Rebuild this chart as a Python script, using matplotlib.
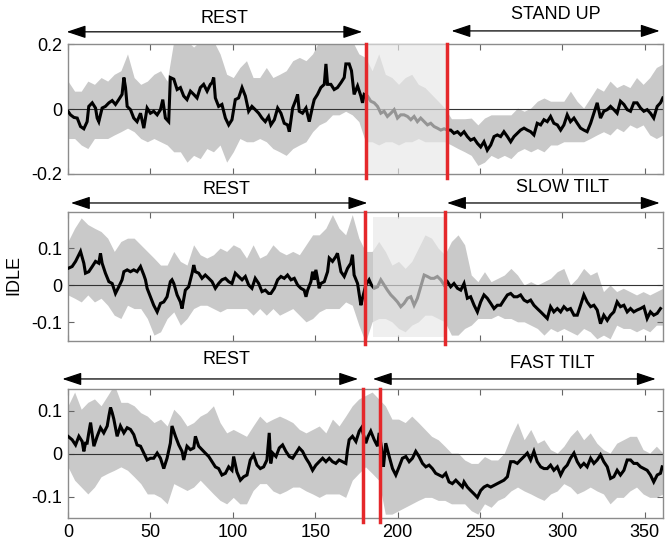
import numpy as np
import matplotlib
matplotlib.use("Agg")
import matplotlib.pyplot as plt
from matplotlib.transforms import blended_transform_factory

plt.rcParams['font.family'] = ['Liberation Sans', 'DejaVu Sans']
plt.rcParams['font.size'] = 13

# ---------------- data ----------------
xmax = 361
band_t = np.linspace(0, xmax, 91)

# panel 1 : rest -> stand up
stand_t = [0.0, 1.5, 3.6, 5.6, 7.6, 9.6, 11.6, 12.6, 14.7, 16.7, 17.7, 18.7, 20.7, 22.7, 24.8, 26.8, 28.8,
           30.8, 32.8, 33.9, 34.9, 35.9, 37.9, 39.9, 41.9, 44.0, 46.0, 48.0, 50.0, 52.0, 54.1, 56.1, 57.5,
           59.1, 61.1, 62.1, 64.2, 66.2, 68.2, 70.2, 72.2, 74.3, 76.3, 78.3, 80.3, 82.3, 84.4, 86.4, 87.4,
           88.4, 89.4, 91.4, 93.4, 95.5, 97.5, 99.5, 101.5, 103.5, 105.6, 107.6, 109.6, 111.6, 113.6, 115.7,
           117.7, 119.7, 121.7,
           123.1, 125.2, 127.2, 129.2, 131.2, 133.2, 134.3, 136.3, 138.3, 139.3, 140.3, 142.3, 144.4, 146.4,
           148.4, 149.4, 151.4, 153.4, 155.5, 156.5, 157.5, 159.5, 161.5, 163.5, 165.6, 167.6, 168.6, 170.6,
           172.0, 173.6, 175.7, 177.7, 178.7, 179.7,
           181.7, 183.7, 185.8, 187.8, 189.8, 191.8, 193.8, 195.9, 197.9, 199.9, 201.9, 203.9, 206.0, 208.0,
           210.0, 212.0, 214.0, 216.1, 218.1, 220.1, 222.1, 224.1, 226.2, 228.2,
           230.2, 232.2, 234.2, 236.3, 238.3,
           240.3, 242.3, 244.3, 246.4, 248.4, 250.4, 252.4, 254.4, 256.5, 258.5, 260.5, 262.5, 264.5, 266.6,
           268.6, 270.6, 272.6, 274.6, 276.7, 278.7, 280.7, 282.7, 284.7, 286.8, 288.8, 290.8, 292.8, 294.8,
           296.9, 298.9, 300.9, 302.9, 304.9, 307.0, 309.0, 311.0, 313.0, 315.0, 317.1, 319.1, 321.1, 323.1,
           325.1, 327.2, 329.2, 331.2, 333.2, 335.2, 337.3, 339.3, 341.3, 343.3, 345.3, 347.4, 349.4, 351.4,
           353.4, 355.4, 357.5, 359.5, 360.9]
stand_y = [-0.007, -0.018, -0.026, -0.028, -0.054, -0.061, -0.039, 0.008, 0.019, 0.003, -0.028, -0.039,
           0.003, 0.008, 0.019, 0.026, 0.014, 0.029, 0.045, 0.097, 0.066, 0.008, -0.002, -0.028, -0.039,
           -0.013, -0.059, 0.003, -0.013, -0.007, -0.018, -0.002, 0.029, -0.028, -0.039, 0.097, 0.092, 0.060,
           0.066, 0.040, 0.029, 0.055, 0.045, 0.034, 0.066, 0.076, 0.055, 0.076, 0.081, 0.097, 0.034, 0.008,
           0.014, -0.028, -0.049, -0.033, 0.029, 0.034, 0.066, 0.040, -0.007, 0.008, -0.002, -0.013, -0.028,
           -0.039, -0.023,
           -0.049, -0.033, 0.003, -0.013, -0.044, -0.049, -0.070, 0.003, 0.029, 0.045, -0.007, -0.013, 0.003,
           -0.039, 0.008, 0.029, 0.045, 0.066, 0.076, 0.139, 0.076, 0.076, 0.060, 0.066, 0.081, 0.097, 0.139,
           0.139, 0.118, 0.045, 0.071, 0.040, 0.019, 0.045,
           0.040, 0.024, 0.019, 0.008, -0.013, -0.007, -0.023, -0.013, -0.002, -0.028, -0.018, -0.018, -0.023,
           -0.033, -0.023, -0.039, -0.028, -0.039, -0.049, -0.044, -0.054, -0.059, -0.065, -0.061,
           -0.065, -0.065, -0.075, -0.070, -0.080,
           -0.070, -0.085, -0.096, -0.091, -0.106, -0.117, -0.101, -0.127, -0.111, -0.085, -0.080, -0.085,
           -0.070, -0.085, -0.101, -0.085, -0.075, -0.065, -0.059, -0.065, -0.070, -0.080, -0.044, -0.049,
           -0.033, -0.039, -0.023, -0.044, -0.049, -0.065, -0.049, -0.018, -0.039, -0.028, -0.044, -0.059,
           -0.065, -0.070, -0.044, -0.013, 0.019, -0.028, -0.007, -0.002, 0.008, -0.002, -0.013, 0.024,
           0.014, -0.002, -0.007, 0.019, 0.019, 0.003, -0.007, -0.002, -0.013, -0.028, 0.008, 0.019, 0.034]
stand_hi = [0.086, 0.055, 0.055, 0.086, 0.076, 0.097, 0.086, 0.107, 0.118, 0.170, 0.097, 0.076, 0.086, 0.107,
            0.118, 0.086, 0.21, 0.21, 0.21, 0.191, 0.21, 0.21, 0.21, 0.170, 0.107, 0.097, 0.128, 0.149, 0.097,
            0.097, 0.128,
            0.097, 0.107, 0.118, 0.149, 0.159, 0.149, 0.170, 0.21, 0.21, 0.21, 0.21, 0.21, 0.21, 0.170, 0.159,
            0.118, 0.170, 0.107, 0.097, 0.076, 0.097, 0.107, 0.076, 0.066, 0.045, 0.024, 0.003, -0.030, -0.030,
            -0.030,
            -0.028, -0.049, -0.028, -0.018, -0.018, -0.018, -0.018, 0.003, -0.007, 0.003, 0.024, 0.034, 0.024,
            0.024, 0.024, 0.055, 0.024, 0.003, 0.034, 0.066, 0.055, 0.086, 0.066, 0.076, 0.066, 0.097, 0.076,
            0.097, 0.128, 0.139]
stand_lo = [-0.091, -0.091, -0.111, -0.122, -0.091, -0.091, -0.091, -0.080, -0.070, -0.059, -0.070, -0.091,
            -0.101, -0.091, -0.101, -0.111, -0.132, -0.132, -0.164, -0.143, -0.153, -0.122, -0.132, -0.111,
            -0.164, -0.132, -0.091, -0.101, -0.101, -0.091, -0.101,
            -0.122, -0.132, -0.143, -0.122, -0.111, -0.101, -0.070, -0.049, -0.039, -0.018, -0.018, -0.007,
            -0.018, -0.039, -0.101, -0.101, -0.111, -0.101, -0.101, -0.111, -0.101, -0.101, -0.091, -0.101,
            -0.101, -0.101, -0.101, -0.111, -0.122, -0.132,
            -0.143, -0.174, -0.164, -0.143, -0.153, -0.143, -0.153, -0.132, -0.122, -0.132, -0.122, -0.132,
            -0.111, -0.111, -0.101, -0.101, -0.101, -0.101, -0.091, -0.080, -0.070, -0.080, -0.059, -0.070,
            -0.049, -0.059, -0.049, -0.080, -0.091, -0.080]

# panel 2 : rest -> slow tilt
slow_t = [0.0, 2.5, 4.6, 6.6, 7.6, 9.6, 10.6, 12.6, 14.7, 16.7, 18.7, 19.7, 20.7, 22.7, 24.8, 26.8, 28.8, 30.8,
          32.8, 33.9, 35.9, 37.9, 39.9, 41.9, 44.0, 46.0, 47.0, 48.0, 50.0, 52.0, 54.1, 56.1, 58.1, 60.1, 62.1,
          63.1, 64.2, 66.2, 68.2, 69.2, 71.2, 73.2, 75.3, 76.3, 77.3, 79.3, 81.3, 83.3, 85.4, 87.4, 89.4, 91.4,
          93.4, 95.5, 97.5, 99.5, 101.5, 103.5, 105.6, 107.6, 109.6, 111.6, 113.6, 115.7, 117.7, 119.7, 121.7,
          123.1, 125.2, 127.2, 129.2, 131.2, 133.2, 135.3, 137.3, 139.3, 141.3, 143.3, 144.4, 145.4, 147.4,
          148.4, 149.4, 150.4, 151.4, 152.4, 153.4, 155.5, 157.5, 158.5, 160.5, 162.5, 163.5, 165.6, 167.6,
          169.6, 171.6, 172.6, 173.6, 175.7, 177.7, 178.7, 180.7, 182.7, 184.1,
          185.8, 187.8, 189.8, 191.8, 193.8, 195.9, 197.9, 199.9, 201.9, 203.9, 206.0, 208.0, 210.0, 212.0,
          214.0, 216.1, 218.1, 220.1, 222.1, 224.1, 226.2, 228.2,
          230.2, 232.2, 234.2, 236.3, 238.3,
          240.3, 242.3, 244.3, 246.4, 248.4, 250.4, 252.4, 254.4, 256.5, 258.5, 260.5, 262.5, 264.5, 266.6,
          268.6, 270.6, 272.6, 274.6, 276.7, 278.7, 280.7, 282.7, 284.7, 286.8, 288.8, 290.8, 292.8, 294.8,
          296.9, 298.9, 300.9, 302.9, 304.9, 307.0, 309.0, 311.0, 313.0, 315.0, 317.1, 319.1, 321.1, 323.1,
          325.1, 327.2, 329.2, 331.2, 333.2, 335.2, 337.3, 339.3, 341.3, 343.3, 345.3, 347.4, 349.4, 351.4,
          353.4, 355.4, 357.5, 359.5]
slow_y = [0.046, 0.051, 0.065, 0.083, 0.092, 0.060, 0.033, 0.037, 0.051, 0.065, 0.060, 0.087, 0.060, 0.033,
          0.010, 0.005, -0.022, -0.004, 0.015, 0.037, 0.042, 0.037, 0.042, 0.037, 0.051, 0.028, 0.015, -0.008,
          -0.031, -0.054, -0.072, -0.049, -0.045, -0.031, 0.010, 0.015, 0.005, -0.026, -0.045, -0.063, -0.013,
          -0.004, 0.033, 0.055, 0.037, 0.033, 0.019, 0.028, 0.019, 0.010, -0.008, 0.005, 0.015, 0.019, 0.010,
          0.005, 0.033, 0.024, 0.015, 0.024, 0.001, -0.008, 0.019, 0.005, -0.017, -0.013, -0.022,
          -0.022, -0.008, 0.015, 0.024, 0.019, 0.028, 0.015, 0.019, 0.001, -0.008, -0.013, -0.031, -0.013,
          0.010, 0.037, 0.015, 0.042, 0.019, -0.008, 0.005, 0.010, 0.037, 0.074, 0.065, 0.078, 0.087, 0.037,
          0.024, 0.046, 0.060, 0.083, 0.028, 0.005, -0.054, -0.035, 0.001, 0.015, 0.001,
          -0.008, -0.004, 0.015, 0.001, -0.013, -0.026, -0.035, -0.045, -0.058, -0.049, -0.035, -0.031,
          -0.054, -0.035, -0.004, 0.028, 0.024, 0.019, 0.019, 0.024, 0.015, 0.001,
          0.010, -0.004, 0.005, -0.008, -0.013,
          0.005, -0.035, -0.031, -0.054, -0.072, -0.045, -0.026, -0.035, -0.049, -0.063, -0.054, -0.054,
          -0.040, -0.026, -0.022, -0.031, -0.031, -0.026, -0.040, -0.045, -0.040, -0.054, -0.063, -0.072,
          -0.081, -0.090, -0.058, -0.072, -0.063, -0.072, -0.058, -0.067, -0.063, -0.081, -0.081, -0.054,
          -0.026, -0.045, -0.058, -0.054, -0.067, -0.104, -0.081, -0.095, -0.081, -0.072, -0.045, -0.058,
          -0.054, -0.072, -0.063, -0.072, -0.067, -0.063, -0.058, -0.090, -0.072, -0.081, -0.076, -0.063]
slow_hi = [0.119, 0.155, 0.183, 0.165, 0.155, 0.146, 0.128, 0.092, 0.119, 0.128, 0.128, 0.110, 0.092, 0.074,
           0.055, 0.055, 0.092, 0.065, 0.055, 0.110, 0.083, 0.074, 0.083, 0.101, 0.092, 0.110, 0.101, 0.074,
           0.110, 0.074, 0.083,
           0.110, 0.092, 0.083, 0.092, 0.083, 0.110, 0.137, 0.137, 0.155, 0.192, 0.155, 0.137, 0.192, 0.128,
           0.092, 0.092, 0.119, 0.092, 0.055, 0.065, 0.046, 0.065, 0.101, 0.137, 0.128, 0.101, 0.083, 0.119,
           0.137, 0.110,
           0.028, 0.010, 0.037, 0.010, 0.019, 0.028, 0.046, 0.028, 0.001, 0.010, 0.001, 0.010, 0.019, 0.037,
           0.046, 0.001, 0.019, 0.046, 0.028, 0.037, -0.017, 0.001, -0.017, -0.008, -0.017, -0.026, -0.017,
           -0.026, -0.017, -0.008]
slow_lo = [-0.026, -0.035, -0.045, -0.026, -0.045, -0.035, -0.054, -0.081, -0.090, -0.054, -0.063, -0.063,
           -0.090, -0.135, -0.126, -0.090, -0.072, -0.108, -0.090, -0.063, -0.054, -0.054, -0.063, -0.072,
           -0.063, -0.063, -0.063, -0.063, -0.081, -0.063, -0.081,
           -0.063, -0.081, -0.072, -0.063, -0.081, -0.099, -0.090, -0.072, -0.063, -0.063, -0.063, -0.045,
           -0.054, -0.108, -0.154, -0.099, -0.090, -0.090, -0.099, -0.117, -0.126, -0.108, -0.099, -0.081,
           -0.081, -0.090, -0.099, -0.135, -0.135, -0.117,
           -0.108, -0.090, -0.090, -0.090, -0.081, -0.090, -0.090, -0.099, -0.099, -0.108, -0.117, -0.135,
           -0.117, -0.126, -0.117, -0.126, -0.135, -0.117, -0.126, -0.145, -0.135, -0.145, -0.108, -0.117,
           -0.117, -0.126, -0.117, -0.126, -0.108, -0.108]

# panel 3 : rest -> fast tilt
fast_t = [0.0, 2.5, 4.6, 6.6, 8.6, 9.6, 10.6, 11.6, 12.6, 13.7, 14.7, 15.7, 17.7, 19.7, 21.7, 23.8, 24.8, 25.8,
          26.8, 27.8, 29.8, 31.8, 33.9, 35.9, 37.9, 39.9, 41.9, 44.0, 46.0, 48.0, 50.0, 52.0, 54.1, 56.1, 58.1,
          60.1, 62.1, 63.1, 65.2, 67.2, 69.2, 70.2, 72.2, 74.3, 76.3, 77.3, 79.3, 81.3, 83.3, 85.4, 87.4, 89.4,
          91.4, 93.4, 95.5, 97.5, 99.5, 100.5, 102.5, 104.6, 106.6, 108.6, 110.6, 112.6, 114.7, 116.7, 118.7,
          120.7, 122.1,
          123.0, 124.2, 126.2, 128.2, 130.2, 132.2, 134.3, 136.3, 138.3, 140.3, 142.3, 144.4, 146.4, 148.4,
          150.4, 152.4, 154.5, 156.5, 158.5, 160.5, 162.5, 164.5, 166.6, 168.6, 169.6, 170.6, 172.6, 174.7,
          176.7, 178.1, 180.7, 182.1, 183.7, 185.8, 187.8, 188.8, 190.2, 191.4, 192.8, 194.9, 196.9, 198.9,
          200.9, 202.9, 205.0, 207.0, 209.0, 211.0, 213.0, 215.1, 217.1, 219.1, 221.1, 223.1, 225.2, 227.2,
          229.2, 231.2, 233.2, 235.3, 237.3, 239.3,
          240.3, 242.3, 244.3, 246.4, 248.4, 250.4, 252.4, 254.4, 256.5, 258.5, 260.5, 262.5, 264.5, 266.6,
          268.6, 270.6, 272.6, 274.6, 276.7, 278.7, 280.7, 282.7, 284.7, 286.8, 288.8, 290.8, 292.8, 294.8,
          296.9, 298.9, 300.9, 302.9, 304.9, 307.0, 309.0, 311.0, 313.0, 315.0, 317.1, 319.1, 321.1, 323.1,
          325.1, 327.2, 329.2, 331.2, 333.2, 335.2, 337.3, 339.3, 341.3, 343.3, 345.3, 347.4, 349.4, 351.4,
          353.4, 355.4, 357.5, 359.5, 360.5]
fast_y = [0.040, 0.032, 0.020, 0.040, 0.028, 0.005, 0.024, 0.024, 0.048, 0.072, 0.044, 0.017, 0.040, 0.060,
          0.048, 0.064, 0.087, 0.107, 0.095, 0.080, 0.040, 0.064, 0.048, 0.060, 0.056, 0.044, 0.020, 0.017,
          0.001, -0.015, -0.011, -0.011, 0.001, -0.011, -0.035, -0.011, 0.024, 0.064, 0.040, 0.020, 0.005,
          -0.015, 0.017, 0.009, 0.013, 0.040, 0.017, 0.009, 0.001, -0.007, -0.019, -0.031, -0.035, -0.050,
          -0.046, -0.031, -0.039, -0.007, -0.043, -0.062, -0.054, -0.050, -0.015, -0.003, -0.027, -0.035,
          -0.031, -0.015, 0.048,
          -0.023, 0.001, -0.007, 0.013, 0.020, 0.005, -0.007, -0.011, 0.001, 0.013, 0.005, -0.011, -0.023,
          -0.039, -0.027, -0.019, -0.011, -0.019, -0.011, -0.019, -0.023, -0.015, -0.019, -0.023, 0.009,
          0.032, 0.040, 0.028, 0.052, 0.060, 0.024, 0.040, 0.052, 0.032, 0.017, 0.048, 0.013, -0.031, 0.024,
          -0.007, -0.035, -0.050, -0.031, -0.011, -0.007, -0.019, -0.011, 0.005, -0.007, -0.023, -0.031,
          -0.027, -0.035, -0.046, -0.050, -0.054, -0.046, -0.066, -0.070, -0.062, -0.070, -0.078,
          -0.066, -0.078, -0.086, -0.094, -0.102, -0.086, -0.078, -0.074, -0.078, -0.074, -0.070, -0.066,
          -0.062, -0.054, -0.019, -0.019, -0.023, -0.015, -0.007, 0.001, -0.015, 0.005, -0.019, -0.031,
          -0.035, -0.035, -0.027, -0.039, -0.031, -0.050, -0.035, -0.027, -0.011, 0.001, -0.019, -0.031,
          -0.023, -0.031, -0.011, -0.023, -0.015, -0.003, -0.019, -0.031, -0.058, -0.054, -0.039, -0.050,
          -0.039, -0.015, -0.015, -0.023, -0.023, -0.031, -0.035, -0.039, -0.050, -0.066, -0.050, -0.046,
          -0.031]
fast_hi = [0.111, 0.143, 0.103, 0.119, 0.127, 0.111, 0.135, 0.160, 0.119, 0.119, 0.111, 0.095, 0.087, 0.072,
           0.080, 0.064, 0.103, 0.087, 0.064, 0.072, 0.087, 0.095, 0.111, 0.072, 0.048, 0.056, 0.048, 0.040,
           0.064, 0.087, 0.072,
           0.080, 0.087, 0.080, 0.072, 0.056, 0.048, 0.056, 0.064, 0.048, 0.080, 0.064, 0.087, 0.111, 0.127,
           0.135, 0.143, 0.127, 0.111, 0.080, 0.080, 0.072, 0.087, 0.072, 0.056, 0.040, 0.032, 0.017, 0.001,
           0.001, -0.015,
           -0.023, -0.023, -0.007, -0.015, -0.015, 0.001, 0.040, 0.072, 0.032, 0.056, 0.024, 0.032, 0.009,
           0.001, 0.017, 0.040, 0.056, 0.032, 0.048, 0.024, 0.009, 0.001, 0.024, 0.032, 0.040, 0.040, 0.009,
           0.001, 0.017, 0.001]
fast_lo = [-0.031, -0.062, -0.078, -0.094, -0.078, -0.054, -0.046, -0.039, -0.031, -0.039, -0.054, -0.070,
           -0.094, -0.094, -0.102, -0.117, -0.070, -0.078, -0.086, -0.078, -0.062, -0.078, -0.094, -0.109,
           -0.117, -0.102, -0.117, -0.117, -0.086, -0.070, -0.070,
           -0.087, -0.094, -0.087, -0.078, -0.078, -0.087, -0.094, -0.102, -0.094, -0.094, -0.094, -0.102,
           -0.062, -0.046, -0.031, -0.046, -0.062, -0.141, -0.141, -0.133, -0.125, -0.117, -0.109, -0.102,
           -0.102, -0.109, -0.109, -0.117, -0.117, -0.117,
           -0.133, -0.141, -0.117, -0.125, -0.109, -0.102, -0.087, -0.078, -0.087, -0.094, -0.102, -0.109,
           -0.094, -0.087, -0.070, -0.078, -0.094, -0.087, -0.078, -0.087, -0.094, -0.117, -0.102, -0.102,
           -0.087, -0.078, -0.094, -0.102, -0.102, -0.094]

# event markers (red lines) and the faded window
stand_marks = [181, 230]
slow_marks = [180, 229]
fast_marks = [179, 189.5]
stand_fade = (181, 230, -0.2, 0.2)
slow_fade = (185, 228, -0.14, 0.185)

# arrow labels: (text, x0, x1, arrow y, text x, text y)   y in axes fraction
stand_arrows = [("REST", -0.8, 178.5, 1.095, 95, 1.20), ("STAND UP", 232.7, 359, 1.102, 296, 1.23)]
slow_arrows = [("REST", 1.8, 181.6, 1.067, 96, 1.168), ("SLOW TILT", 230, 359, 1.067, 300, 1.184)]
fast_arrows = [("REST", -3.4, 176, 1.078, 96, 1.225), ("FAST TILT", 185, 356.6, 1.078, 294, 1.194)]

red = '#e5282b'


def drawPanel(ax, t, y, hi, lo, marks, fade, arrows, ylim, yticks, ylabels, showX):
    ax.fill_between(band_t, lo, hi, color='#c9c9c9', lw=0, zorder=1)
    ax.axhline(0, color='#333333', lw=0.8, zorder=2)
    ax.plot(t, y, color='black', lw=2.2, zorder=3, solid_joinstyle='miter')
    if fade is not None:
        ax.fill_between([fade[0], fade[1]], fade[2], fade[3], facecolor='#e7e7e7', alpha=0.65, lw=0, zorder=4)
    for m in marks:
        ax.axvline(m, ymin=-0.03, ymax=1, color=red, lw=2.5, zorder=5, clip_on=False)

    ax.set_xlim(0, xmax)
    ax.set_ylim(ylim)
    ax.set_xticks(range(0, 351, 50))
    ax.set_yticks(yticks)
    ax.set_yticklabels(ylabels)
    if not showX:
        ax.set_xticklabels([])
    ax.tick_params(direction='in', top=True, right=True, length=4, color='#666666', labelsize=13, pad=4)
    for s in ax.spines.values():
        s.set_color('#8c8c8c')
        s.set_linewidth(1.0)

    tr = blended_transform_factory(ax.transData, ax.transAxes)
    for (label, x0, x1, ya, xt, yt) in arrows:
        ax.annotate('', xy=(x0, ya), xytext=(x1, ya), xycoords=tr, textcoords=tr,
                    arrowprops=dict(arrowstyle='<|-|>,head_length=0.9,head_width=0.3', color='black',
                                    lw=0.9, mutation_scale=13, shrinkA=0, shrinkB=0),
                    annotation_clip=False)
        ax.text(xt, yt, label, transform=tr, ha='center', va='center', fontsize=13)


fig = plt.figure(figsize=(6.7, 5.45), dpi=100)
ax1 = fig.add_axes([0.1015, 0.681, 0.888, 0.238])
ax2 = fig.add_axes([0.1015, 0.375, 0.888, 0.2367])
ax3 = fig.add_axes([0.1015, 0.0495, 0.888, 0.2367])

drawPanel(ax1, stand_t, stand_y, stand_hi, stand_lo, stand_marks, stand_fade, stand_arrows,
          (-0.2, 0.2), [-0.2, 0, 0.2], ['-0.2', '0', '0.2'], False)
drawPanel(ax2, slow_t, slow_y, slow_hi, slow_lo, slow_marks, slow_fade, slow_arrows,
          (-0.15, 0.2), [-0.1, 0, 0.1], ['-0.1', '0', '0.1'], False)
drawPanel(ax3, fast_t, fast_y, fast_hi, fast_lo, fast_marks, None, fast_arrows,
          (-0.15, 0.15), [-0.1, 0, 0.1], ['-0.1', '0', '0.1'], True)

fig.text(0.021, 0.495, 'IDLE', rotation=90, ha='center', va='center', fontsize=13)

fig.savefig('out.png', dpi=100)
